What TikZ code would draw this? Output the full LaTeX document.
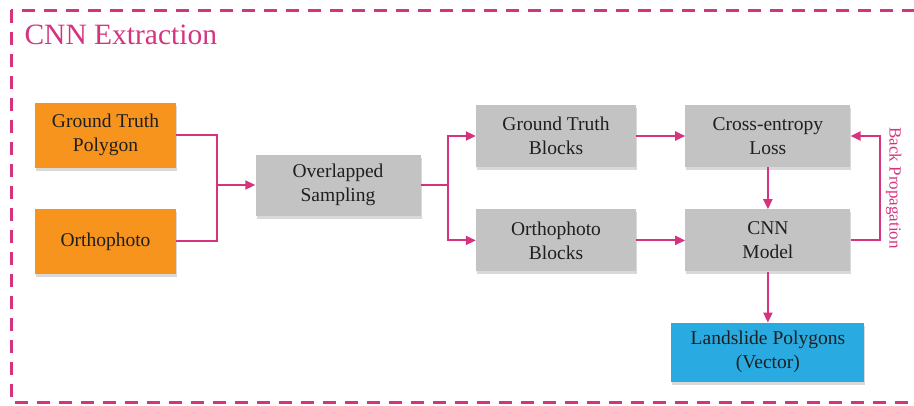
\documentclass[tikz,border=0pt]{standalone}
\usepackage{fontspec}
\setmainfont{Liberation Serif}
\usetikzlibrary{arrows.meta,positioning,shadows}
\definecolor{srcorange}{HTML}{F7941E}
\definecolor{procgray}{HTML}{C3C3C3}
\definecolor{outblue}{HTML}{29ABE2}
\definecolor{linkpink}{HTML}{D6337F}

\begin{document}
\begin{tikzpicture}[x=1pt, y=-1pt, node distance=42pt and 49pt, >={Triangle[length=10pt,width=9pt]},
  every node/.style={font=\fontsize{19.5}{24}\selectfont, text=black!88},
  boxbase/.style={align=center, inner sep=0pt, drop shadow={opacity=0.3, shadow xshift=1pt, shadow yshift=-3pt}},
  src/.style={boxbase, fill=srcorange, minimum width=141pt, minimum height=65pt},
  proc/.style={boxbase, fill=procgray, minimum width=160pt, minimum height=62pt},
  outbox/.style={boxbase, fill=outblue, minimum width=193pt, minimum height=59pt},
  link/.style={draw=linkpink, line width=2pt}]
  \useasboundingbox (0,0) rectangle (914,405);
  \clip (0,0) rectangle (914,405);
  \draw[linkpink, line width=3pt, dash pattern=on 13pt off 9pt] (11,10) rectangle (940,402);
  \node[anchor=west, text=linkpink, font=\fontsize{29.5}{32}\selectfont] (title) at (21,35) {CNN Extraction};

  \node[src] (gtp) at (105.5,135) {Ground Truth\\Polygon};
  \node[src, below=41pt of gtp] (ortho) {Orthophoto};
  \node[proc, minimum width=165pt, minimum height=61pt] (samp) at (338,185) {Overlapped\\Sampling};
  \node[proc] (gtb) at (556,136) {Ground Truth\\Blocks};
  \node[proc, below=42pt of gtb] (orb) {Orthophoto\\Blocks};
  \node[proc, minimum width=165pt, right=49pt of gtb] (loss) {Cross-entropy\\Loss};
  \node[proc, minimum width=165pt, below=42pt of loss] (cnn) {CNN\\Model};
  \node[outbox, below=51pt of cnn] (poly) {Landslide Polygons\\(Vector)};

  \coordinate (merge) at (217,185);
  \coordinate (split) at (448,185);
  \draw[link] (gtp) -| (merge);
  \draw[link] (ortho) -| (merge);
  \draw[link, ->] (merge) -- (samp);
  \draw[link] (samp) -- (split);
  \draw[link, ->] (split) |- (gtb);
  \draw[link, ->] (split) |- (orb);
  \draw[link, ->] (gtb) -- (loss);
  \draw[link, ->] (orb) -- (cnn);
  \draw[link, ->] (loss) -- (cnn);
  \draw[link, ->] (cnn) -- (poly);
  \draw[link, ->] (cnn.east) -- ++(29,0) |- (loss.east)
    node[pos=0.25, right=2pt, rotate=-90, anchor=south, text=linkpink, font=\fontsize{17}{20}\selectfont] (bp) {Back Propagation};
\end{tikzpicture}
\end{document}
